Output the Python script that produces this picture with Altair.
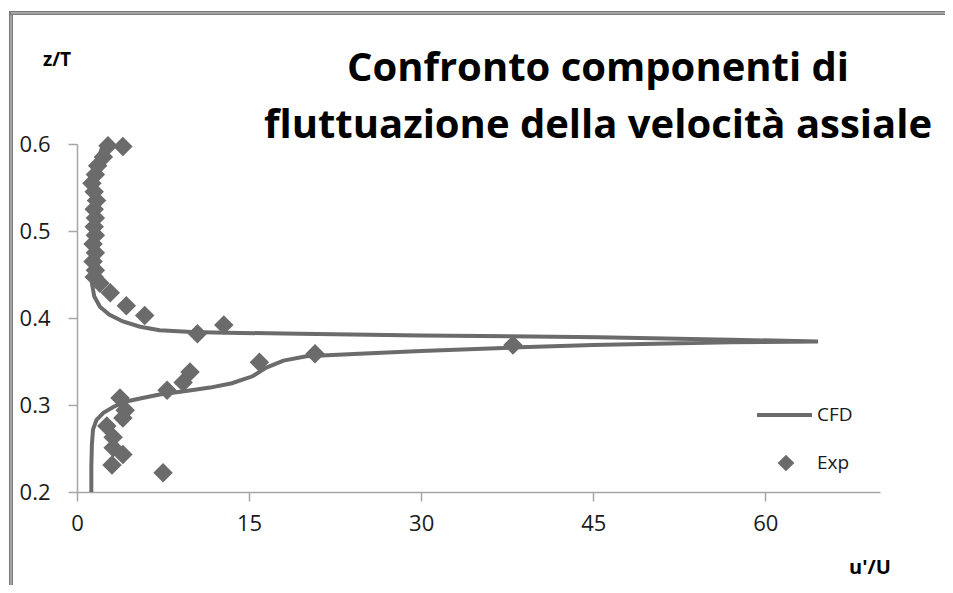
import altair as alt
import pandas as pd

# CFD profile (u'/U, z/T), traced in order along the curve
cfd_u = [1.25, 1.25, 1.3, 1.4, 1.7, 2.3, 3.2, 4.3, 5.7, 7.2, 9.5, 11.6, 13.5, 15.3,
         16.5, 18.0, 20.0, 24.6, 30.0, 37.9, 45.0, 57.0, 64.6,
         57.0, 45.5, 30.0, 19.4, 13.0, 10.0, 7.2, 5.5, 4.0, 2.8, 2.0, 1.5, 1.3,
         1.3, 1.35, 1.45, 1.6, 1.9, 2.3]
cfd_z = [0.200, 0.230, 0.255, 0.272, 0.283, 0.291, 0.298, 0.304, 0.308, 0.312, 0.316,
         0.320, 0.325, 0.333, 0.343, 0.351, 0.356, 0.359, 0.362, 0.366, 0.369, 0.372,
         0.373, 0.375, 0.378, 0.380, 0.382, 0.383, 0.384, 0.386, 0.390, 0.396, 0.404,
         0.413, 0.425, 0.440, 0.460, 0.480, 0.520, 0.560, 0.585, 0.600]

# Experimental points
exp_u = [3.05, 4.0, 3.15, 3.15, 2.6, 4.0, 4.2, 3.75, 7.5, 7.85, 9.25, 9.85, 15.9,
         20.75, 38.0, 10.5, 12.8, 5.9, 4.3, 2.9, 2.0, 1.5,
         1.6, 1.4, 1.6, 1.4, 1.6, 1.5, 1.6, 1.5, 1.7, 1.5, 1.3, 1.6, 1.8, 2.3,
         2.7, 4.0]
exp_z = [0.231, 0.243, 0.251, 0.263, 0.276, 0.285, 0.294, 0.308, 0.222, 0.317, 0.326,
         0.338, 0.349, 0.359, 0.369, 0.382, 0.392, 0.403, 0.414, 0.429, 0.440, 0.447,
         0.455, 0.465, 0.475, 0.485, 0.495, 0.505, 0.515, 0.525, 0.535, 0.545, 0.555,
         0.565, 0.575, 0.585, 0.598, 0.597]

x_ticks = [0, 15, 30, 45, 60]
y_ticks = [0.2, 0.3, 0.4, 0.5, 0.6]
title_lines = ["Confronto componenti di", "fluttuazione della velocità assiale"]
legend_labels = ["CFD", "Exp"]

GRAY = "#6b6b6b"
FONT = "Open Sans"

cfd = pd.DataFrame({"u": cfd_u, "z": cfd_z, "i": range(len(cfd_u))})
exp = pd.DataFrame({"u": exp_u, "z": exp_z})

xs = alt.Scale(domain=[0, 70], nice=False)
ys = alt.Scale(domain=[0.2, 0.6], nice=False, zero=False)

line = alt.Chart(cfd).mark_line(color=GRAY, strokeWidth=4, clip=False).encode(
    x=alt.X("u:Q", scale=xs,
            axis=alt.Axis(values=x_ticks, title=None, grid=False, labelPadding=12,
                          labelFlush=False)),
    y=alt.Y("z:Q", scale=ys,
            axis=alt.Axis(values=y_ticks, title=None, grid=False, format=".1f",
                          labelPadding=18, labelFlush=False)),
    order="i:Q",
)

points = alt.Chart(exp).mark_point(
    shape="diamond", filled=True, size=380, color=GRAY, opacity=1
).encode(x=alt.X("u:Q", scale=xs), y=alt.Y("z:Q", scale=ys))

one = pd.DataFrame({"a": [0]})

# frame
frame_left = alt.Chart(one).mark_rule(color="#7a7a7a", strokeWidth=4).encode(
    x=alt.value(-66), y=alt.value(-133), y2=alt.value(445))
frame_left2 = alt.Chart(one).mark_rule(color="#d0d0d0", strokeWidth=1).encode(
    x=alt.value(-66), y=alt.value(-131), y2=alt.value(445))
frame_top = alt.Chart(one).mark_rule(color="#7a7a7a", strokeWidth=4).encode(
    x=alt.value(-68), x2=alt.value(880), y=alt.value(-131))
frame_top2 = alt.Chart(one).mark_rule(color="#d0d0d0", strokeWidth=1).encode(
    x=alt.value(-66), x2=alt.value(880), y=alt.value(-131))

title = alt.Chart(pd.DataFrame({"t": title_lines, "yy": [-63, -6]})).mark_text(
    font=FONT, fontSize=40, fontWeight="bold", color="#000000",
    align="center", baseline="alphabetic"
).encode(text="t:N", x=alt.value(521), y=alt.Y("yy:Q", scale=None))

ztitle = alt.Chart(pd.DataFrame({"t": ["z/T"]})).mark_text(
    font=FONT, fontSize=19, fontWeight="bold", color="#000000", align="center",
    baseline="middle"
).encode(text="t:N", x=alt.value(-20), y=alt.value(-84))

utitle = alt.Chart(pd.DataFrame({"t": ["u'/U"]})).mark_text(
    font=FONT, fontSize=20, fontWeight="bold", color="#000000", align="center",
    baseline="middle"
).encode(text="t:N", x=alt.value(793), y=alt.value(424))

leg_line = alt.Chart(one).mark_rule(color=GRAY, strokeWidth=4).encode(
    x=alt.value(680), x2=alt.value(735), y=alt.value(271))
leg_pt = alt.Chart(one).mark_point(shape="diamond", filled=True, size=280,
                                   color=GRAY, opacity=1).encode(
    x=alt.value(709), y=alt.value(319))
leg_text = alt.Chart(pd.DataFrame({"t": legend_labels, "yy": [271, 319]})).mark_text(
    font=FONT, fontSize=19, color="#1a1a1a", align="left", baseline="middle"
).encode(text="t:N", x=alt.value(740), y=alt.Y("yy:Q", scale=None))

chart = alt.layer(
    frame_left, frame_left2, frame_top, frame_top2,
    line, points, title, ztitle, utitle, leg_line, leg_pt, leg_text
).properties(
    width=803, height=348,
    autosize=alt.AutoSizeParams(type="none"),
    padding={"left": 69, "top": 136, "right": 65, "bottom": 93},
    background="white",
).configure_view(stroke=None).configure_axis(
    domainColor="#a6a6a6", tickColor="#a6a6a6", tickSize=9, domainWidth=1.5,
    tickWidth=1.5, labelFont=FONT, labelFontSize=22, labelColor="#1a1a1a",
)

chart.save("out.html", embed_options={"renderer": "svg", "actions": False})
